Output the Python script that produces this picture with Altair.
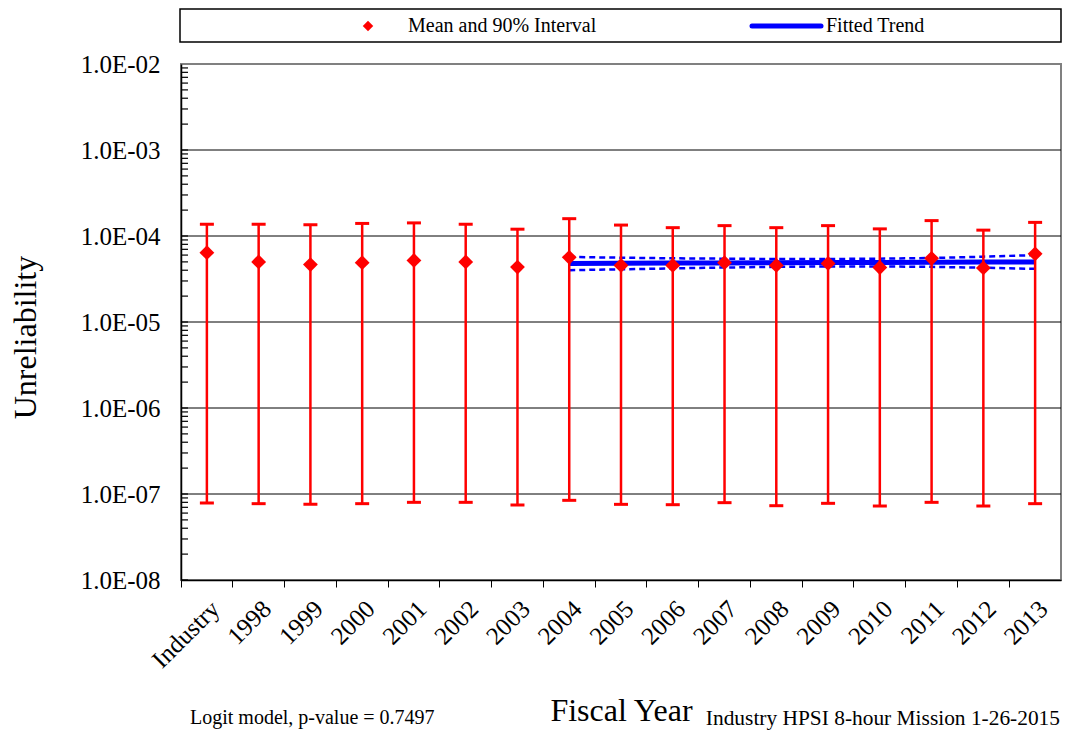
import altair as alt
import pandas as pd

categories = ["Industry", "1998", "1999", "2000", "2001", "2002", "2003", "2004",
              "2005", "2006", "2007", "2008", "2009", "2010", "2011", "2012", "2013"]
mean_vals = [6.4e-5, 5.0e-5, 4.65e-5, 4.9e-5, 5.2e-5, 5.0e-5, 4.35e-5, 5.65e-5,
             4.55e-5, 4.55e-5, 4.9e-5, 4.55e-5, 4.8e-5, 4.3e-5, 5.5e-5, 4.25e-5, 6.2e-5]
upper_vals = [1.37e-4, 1.37e-4, 1.35e-4, 1.40e-4, 1.42e-4, 1.37e-4, 1.20e-4, 1.59e-4,
              1.34e-4, 1.25e-4, 1.32e-4, 1.25e-4, 1.32e-4, 1.21e-4, 1.51e-4, 1.17e-4, 1.44e-4]
lower_vals = [7.86e-8, 7.72e-8, 7.58e-8, 7.72e-8, 8.0e-8, 8.0e-8, 7.45e-8, 8.44e-8,
              7.58e-8, 7.51e-8, 7.93e-8, 7.31e-8, 7.79e-8, 7.25e-8, 8.0e-8, 7.25e-8, 7.72e-8]

trend_years = ["2004", "2005", "2006", "2007", "2008", "2009", "2010", "2011", "2012", "2013"]
trend_mid = [4.80e-5, 4.82e-5, 4.84e-5, 4.86e-5, 4.88e-5, 4.91e-5, 4.93e-5, 4.95e-5, 4.98e-5, 5.00e-5]
trend_hi = [5.70e-5, 5.60e-5, 5.50e-5, 5.45e-5, 5.40e-5, 5.40e-5, 5.45e-5, 5.55e-5, 5.75e-5, 6.00e-5]
trend_lo = [4.00e-5, 4.10e-5, 4.20e-5, 4.30e-5, 4.38e-5, 4.42e-5, 4.42e-5, 4.38e-5, 4.28e-5, 4.15e-5]

y_major = [1e-8, 1e-7, 1e-6, 1e-5, 1e-4, 1e-3, 1e-2]
y_grid = [1e-7, 1e-6, 1e-5, 1e-4, 1e-3]
y_minor = [m * 10.0 ** e for e in range(-8, -2) for m in range(1, 10)]

legend_labels = ["Mean and 90% Interval", "Fitted Trend"]
note_left = "Logit model, p-value = 0.7497"
note_right = "Industry HPSI 8-hour Mission 1-26-2015"

FONT = "Liberation Serif"
RED = "#FF0000"
BLUE = "#0000FF"
W, H = 880, 516

df = pd.DataFrame({"year": categories, "mean": mean_vals,
                   "lower": lower_vals, "upper": upper_vals})
tdf = pd.DataFrame({"year": trend_years, "mid": trend_mid,
                    "lo": trend_lo, "hi": trend_hi})
mdf = pd.DataFrame({"v": y_minor})
gdf = pd.DataFrame({"v": y_grid})
one = pd.DataFrame({"k": [0]})

xscale = alt.Scale(domain=categories, paddingInner=0, paddingOuter=0)
yscale = alt.Scale(type="log", domain=[1e-8, 1e-2], nice=False)

xaxis = alt.Axis(title="Fiscal Year", labelAngle=315, labelFontSize=25, labelFont=FONT,
                 labelColor="black", bandPosition=0, labelOffset=0, tickSize=7,
                 tickColor="black", domainColor="black", domainWidth=1.5, labelPadding=9,
                 titleFont=FONT, titleFontSize=32, titleFontWeight="normal",
                 titleColor="black", titleY=140, titleBaseline="alphabetic", grid=False)
yaxis = alt.Axis(title="Unreliability", values=y_major,
                 labelExpr="'1.0E-0' + round(-log(datum.value)/LN10)",
                 labelFont=FONT, labelFontSize=25, labelColor="black", ticks=False,
                 labelPadding=21, domainColor="black", domainWidth=1.5, grid=False,
                 titleFont=FONT, titleFontSize=32, titleFontWeight="normal",
                 titleColor="black", titleAngle=270, titleX=-156, titleY=273,
                 titleAlign="center", titleBaseline="middle")

X = lambda: alt.X("year:N", scale=xscale, axis=xaxis, sort=categories)

grid = alt.Chart(gdf).mark_rule(color="black", strokeWidth=1).encode(
    y=alt.Y("v:Q", scale=yscale, axis=yaxis))
minor = alt.Chart(mdf).mark_rule(color="black", strokeWidth=1.2).encode(
    y=alt.Y("v:Q", scale=yscale, axis=yaxis), x=alt.value(0), x2=alt.value(7))

trend_band_hi = alt.Chart(tdf).mark_line(color=BLUE, strokeWidth=2.5, strokeDash=[6, 4]).encode(
    x=X(), y=alt.Y("hi:Q", scale=yscale, axis=yaxis))
trend_band_lo = alt.Chart(tdf).mark_line(color=BLUE, strokeWidth=2.5, strokeDash=[6, 4]).encode(
    x=X(), y=alt.Y("lo:Q", scale=yscale, axis=yaxis))
trend_line = alt.Chart(tdf).mark_line(color=BLUE, strokeWidth=5).encode(
    x=X(), y=alt.Y("mid:Q", scale=yscale, axis=yaxis))

bars = alt.Chart(df).mark_rule(color=RED, strokeWidth=2.5).encode(
    x=X(), y=alt.Y("lower:Q", scale=yscale, axis=yaxis), y2="upper:Q")
cap_hi = alt.Chart(df).mark_tick(color=RED, thickness=3, size=14, opacity=1).encode(
    x=X(), y=alt.Y("upper:Q", scale=yscale, axis=yaxis))
cap_lo = alt.Chart(df).mark_tick(color=RED, thickness=3, size=14, opacity=1).encode(
    x=X(), y=alt.Y("lower:Q", scale=yscale, axis=yaxis))
points = alt.Chart(df).mark_point(shape="diamond", filled=True, size=220,
                                  color=RED, opacity=1).encode(
    x=X(), y=alt.Y("mean:Q", scale=yscale, axis=yaxis))

# legend box above the plot
leg_box = alt.Chart(one).mark_rect(fill="white", stroke="black", strokeWidth=1.5).encode(
    x=alt.value(-1), x2=alt.value(W), y=alt.value(-55), y2=alt.value(-22))
leg_pt = alt.Chart(one).mark_point(shape="diamond", filled=True, size=110,
                                   color=RED, opacity=1).encode(
    x=alt.value(187), y=alt.value(-38))
leg_t1 = alt.Chart(one).mark_text(text=legend_labels[0], font=FONT, fontSize=20,
                                  align="left", baseline="middle", color="black").encode(
    x=alt.value(227), y=alt.value(-38))
leg_ln = alt.Chart(one).mark_rule(color=BLUE, strokeWidth=5, strokeCap="round").encode(
    x=alt.value(571), x2=alt.value(640), y=alt.value(-38))
leg_t2 = alt.Chart(one).mark_text(text=legend_labels[1], font=FONT, fontSize=20,
                                  align="left", baseline="middle", color="black").encode(
    x=alt.value(645), y=alt.value(-38))

foot1 = alt.Chart(one).mark_text(text=note_left, font=FONT, fontSize=20, align="left",
                                 baseline="alphabetic", color="black").encode(
    x=alt.value(9), y=alt.value(660))
foot2 = alt.Chart(one).mark_text(text=note_right, font=FONT, fontSize=21.4, align="right",
                                 baseline="alphabetic", color="black").encode(
    x=alt.value(879), y=alt.value(661))

chart = alt.layer(
    grid, minor, trend_band_hi, trend_band_lo, trend_line, bars, cap_hi, cap_lo, points,
    leg_box, leg_pt, leg_t1, leg_ln, leg_t2, foot1, foot2
).properties(
    width=W, height=H,
    autosize=alt.AutoSizeParams(type="none"),
    padding={"left": 173, "top": 56, "right": 1, "bottom": 151},
    background="white",
).configure_view(stroke="#808080", strokeWidth=2)

chart.save("out.html", embed_options={"renderer": "svg", "actions": False})
